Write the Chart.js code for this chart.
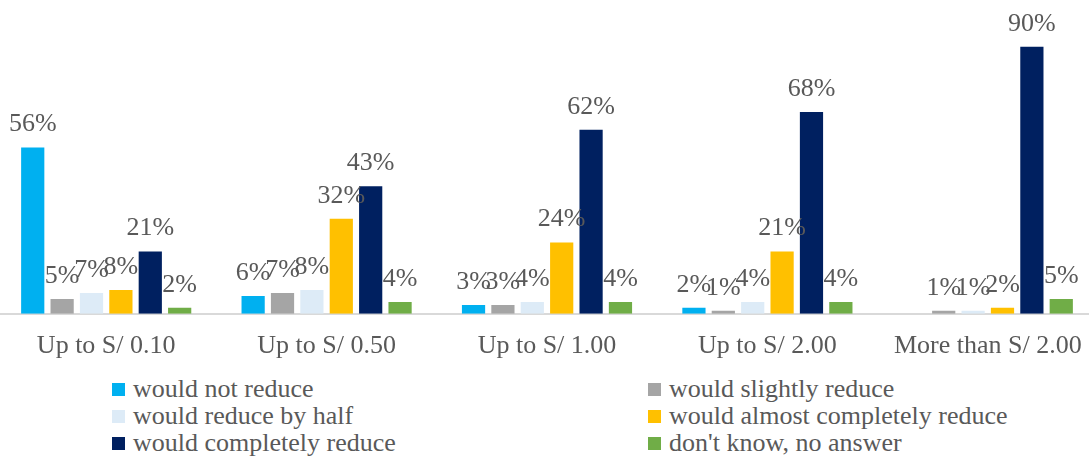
<!DOCTYPE html>
<html>
<head>
<meta charset="utf-8">
<script src="https://cdn.jsdelivr.net/npm/chart.js@4"></script>
<style>
    html, body { margin: 0; padding: 0; background: #fff; overflow: hidden; }
    .chart-wrapper { position: absolute; left: -4px; top: 0; width: 1102px; height: 371px; }
    .legend { position: absolute; left: 112px; top: 375px; width: 960px; font-family: "Times New Roman", "Liberation Serif", serif; font-size: 26px; color: #595959; }
    .legend-item { position: absolute; white-space: nowrap; line-height: 27px; }
    .legend-item span.box { display: inline-block; width: 13px; height: 13px; margin-right: 8px; vertical-align: 1px; }
</style>
</head>
<body>
<div class="chart-wrapper"><canvas id="barChart"></canvas></div>
<div class="legend" id="legend"></div>
<script>
var categories = ['Up to S/ 0.10', 'Up to S/ 0.50', 'Up to S/ 1.00', 'Up to S/ 2.00', 'More than S/ 2.00'];
var seriesNames = ['would not reduce', 'would slightly reduce', 'would reduce by half',
    'would almost completely reduce', 'would completely reduce', "don't know, no answer"];
var notReduce = [56, 6, 3, 2, null];
var slightlyReduce = [5, 7, 3, 1, 1];
var reduceByHalf = [7, 8, 4, 4, 1];
var almostCompletely = [8, 32, 24, 21, 2];
var completelyReduce = [21, 43, 62, 68, 90];
var dontKnow = [2, 4, 4, 4, 5];

var colors = ['#00B0F0', '#A5A5A5', '#DDEBF7', '#FFC000', '#002060', '#70AD47'];
var seriesValues = [notReduce, slightlyReduce, reduceByHalf, almostCompletely, completelyReduce, dontKnow];
var fontFamily = '"Times New Roman", "Liberation Serif", serif';
var textColor = '#595959';

var datasets = [];
for (var i = 0; i < seriesNames.length; i++) {
    datasets.push({
        label: seriesNames[i],
        data: seriesValues[i],
        backgroundColor: colors[i],
        categoryPercentage: 0.8,
        barPercentage: 0.79
    });
}

// draws the value above every bar
var valueLabels = {
    id: 'valueLabels',
    afterDatasetsDraw: function (chart) {
        var ctx = chart.ctx;
        ctx.save();
        ctx.font = '26px ' + fontFamily;
        ctx.fillStyle = textColor;
        ctx.textAlign = 'center';
        ctx.textBaseline = 'bottom';
        chart.data.datasets.forEach(function (ds, di) {
            var meta = chart.getDatasetMeta(di);
            meta.data.forEach(function (bar, idx) {
                var v = ds.data[idx];
                if (v === null || v === undefined) return;
                ctx.fillText(v + '%', bar.x, bar.y - 10);
            });
        });
        ctx.restore();
    }
};

var chart = new Chart(document.getElementById('barChart').getContext('2d'), {
    type: 'bar',
    data: { labels: categories, datasets: datasets },
    options: {
        responsive: true,
        maintainAspectRatio: false,
        animation: false,
        layout: { padding: { top: 17, left: 0, right: 0, bottom: 0 } },
        plugins: {
            legend: { display: false },
            tooltip: { enabled: false }
        },
        scales: {
            x: {
                grid: { display: false },
                border: { color: '#D9D9D9', width: 2 },
                ticks: {
                    color: textColor,
                    font: { family: fontFamily, size: 26 },
                    padding: 9,
                    maxRotation: 0
                }
            },
            y: {
                display: false,
                min: 0,
                max: 100
            }
        }
    },
    plugins: [valueLabels]
});

// legend in two columns, three rows
var legendEl = document.getElementById('legend');
for (var j = 0; j < seriesNames.length; j++) {
    var item = document.createElement('div');
    item.className = 'legend-item';
    item.style.left = (j % 2 === 0 ? 0 : 536) + 'px';
    item.style.top = (Math.floor(j / 2) * 27) + 'px';
    item.innerHTML = '<span class="box" style="background:' + colors[j] + '"></span>' + seriesNames[j];
    legendEl.appendChild(item);
}
</script>
</body>
</html>
